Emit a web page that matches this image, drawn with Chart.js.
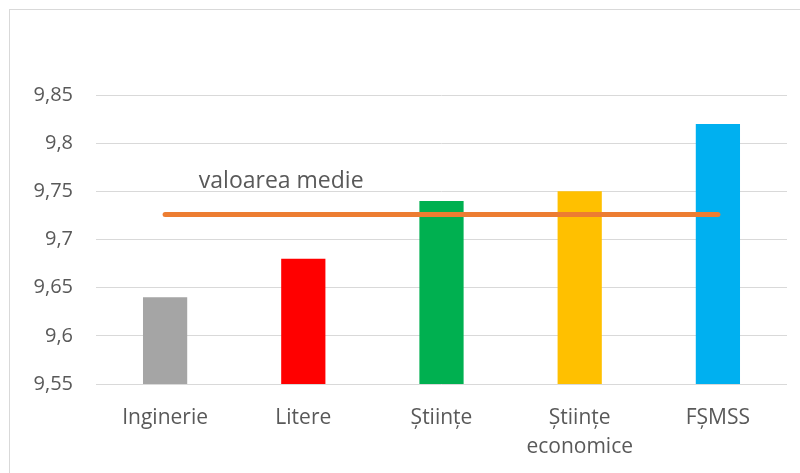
<!DOCTYPE html>
<html lang="ro">
  <head>
    <meta charset="UTF-8" />
    <title>Valoarea medie</title>
    <style>
      html, body { margin: 0; padding: 0; background: #fff; overflow: hidden; }
      body { font-family: "Open Sans", Arial, sans-serif; }
      #frame {
        position: absolute; left: 9px; top: 9px; width: 900px; height: 600px;
        border-left: 1px solid #d9d9d9; border-top: 1px solid #d9d9d9;
      }
      #chart { position: absolute; left: 0; top: 0; }
    </style>
    <script src="https://cdn.jsdelivr.net/npm/chart.js"></script>
  </head>
  <body>
    <div id="frame"></div>
    <canvas id="chart" width="800" height="473"></canvas>

    <script>
      // date
      const categories = ["Inginerie", "Litere", "Științe", ["Științe", "economice"], "FȘMSS"];
      const values = [9.64, 9.68, 9.74, 9.75, 9.82];
      const barColors = ["#A5A5A5", "#FF0000", "#00B050", "#FFC000", "#00B0F0"];
      const meanLine = [9.726, 9.726, 9.726, 9.726, 9.726];
      const meanLabel = "valoarea medie";
      const yTicks = [9.55, 9.6, 9.65, 9.7, 9.75, 9.8, 9.85];

      const textColor = "#595959";
      const fontFamily = "'Open Sans', Arial, sans-serif";

      // eticheta "valoarea medie" deasupra liniei
      const meanLabelPlugin = {
        id: "meanLabel",
        afterDatasetsDraw(chart) {
          const { ctx, scales } = chart;
          const x0 = scales.x.getPixelForValue(0);
          const x1 = scales.x.getPixelForValue(1);
          const x = x0 + (x1 - x0) * 0.84;
          const y = scales.y.getPixelForValue(9.7535);
          ctx.save();
          ctx.font = "23px " + fontFamily;
          ctx.fillStyle = textColor;
          ctx.textAlign = "center";
          ctx.textBaseline = "alphabetic";
          ctx.fillText(meanLabel, x, y);
          ctx.restore();
        },
      };

      new Chart(document.getElementById("chart"), {
        data: {
          labels: categories,
          datasets: [
            {
              type: "line",
              data: meanLine,
              borderColor: "#ED7D31",
              borderWidth: 5,
              borderCapStyle: "round",
              pointRadius: 0,
              order: 0,
            },
            {
              type: "bar",
              data: values,
              backgroundColor: barColors,
              categoryPercentage: 1,
              barPercentage: 0.32,
              order: 1,
            },
          ],
        },
        options: {
          responsive: false,
          animation: false,
          layout: { padding: { top: 95, right: 13, left: 0, bottom: 0 } },
          plugins: {
            legend: { display: false },
            tooltip: { enabled: false },
          },
          scales: {
            x: {
              grid: { display: false },
              border: { display: false },
              ticks: {
                color: textColor,
                font: { family: fontFamily, size: 21, lineHeight: 1.38 },
                padding: 12,
                maxRotation: 0,
                autoSkip: false,
              },
              afterFit(scale) { scale.height = 89; },
            },
            y: {
              min: 9.55,
              max: 9.85,
              afterBuildTicks(scale) {
                scale.ticks = yTicks.map((v) => ({ value: v }));
              },
              grid: { color: "#d9d9d9", lineWidth: 1, drawTicks: false },
              border: { display: false },
              ticks: {
                color: textColor,
                font: { family: fontFamily, size: 20 },
                padding: 23,
                callback: (v) => String(Math.round(v * 100) / 100).replace(".", ","),
              },
              afterFit(scale) { scale.width = 96; },
            },
          },
        },
        plugins: [meanLabelPlugin],
      });
    </script>
  </body>
</html>
